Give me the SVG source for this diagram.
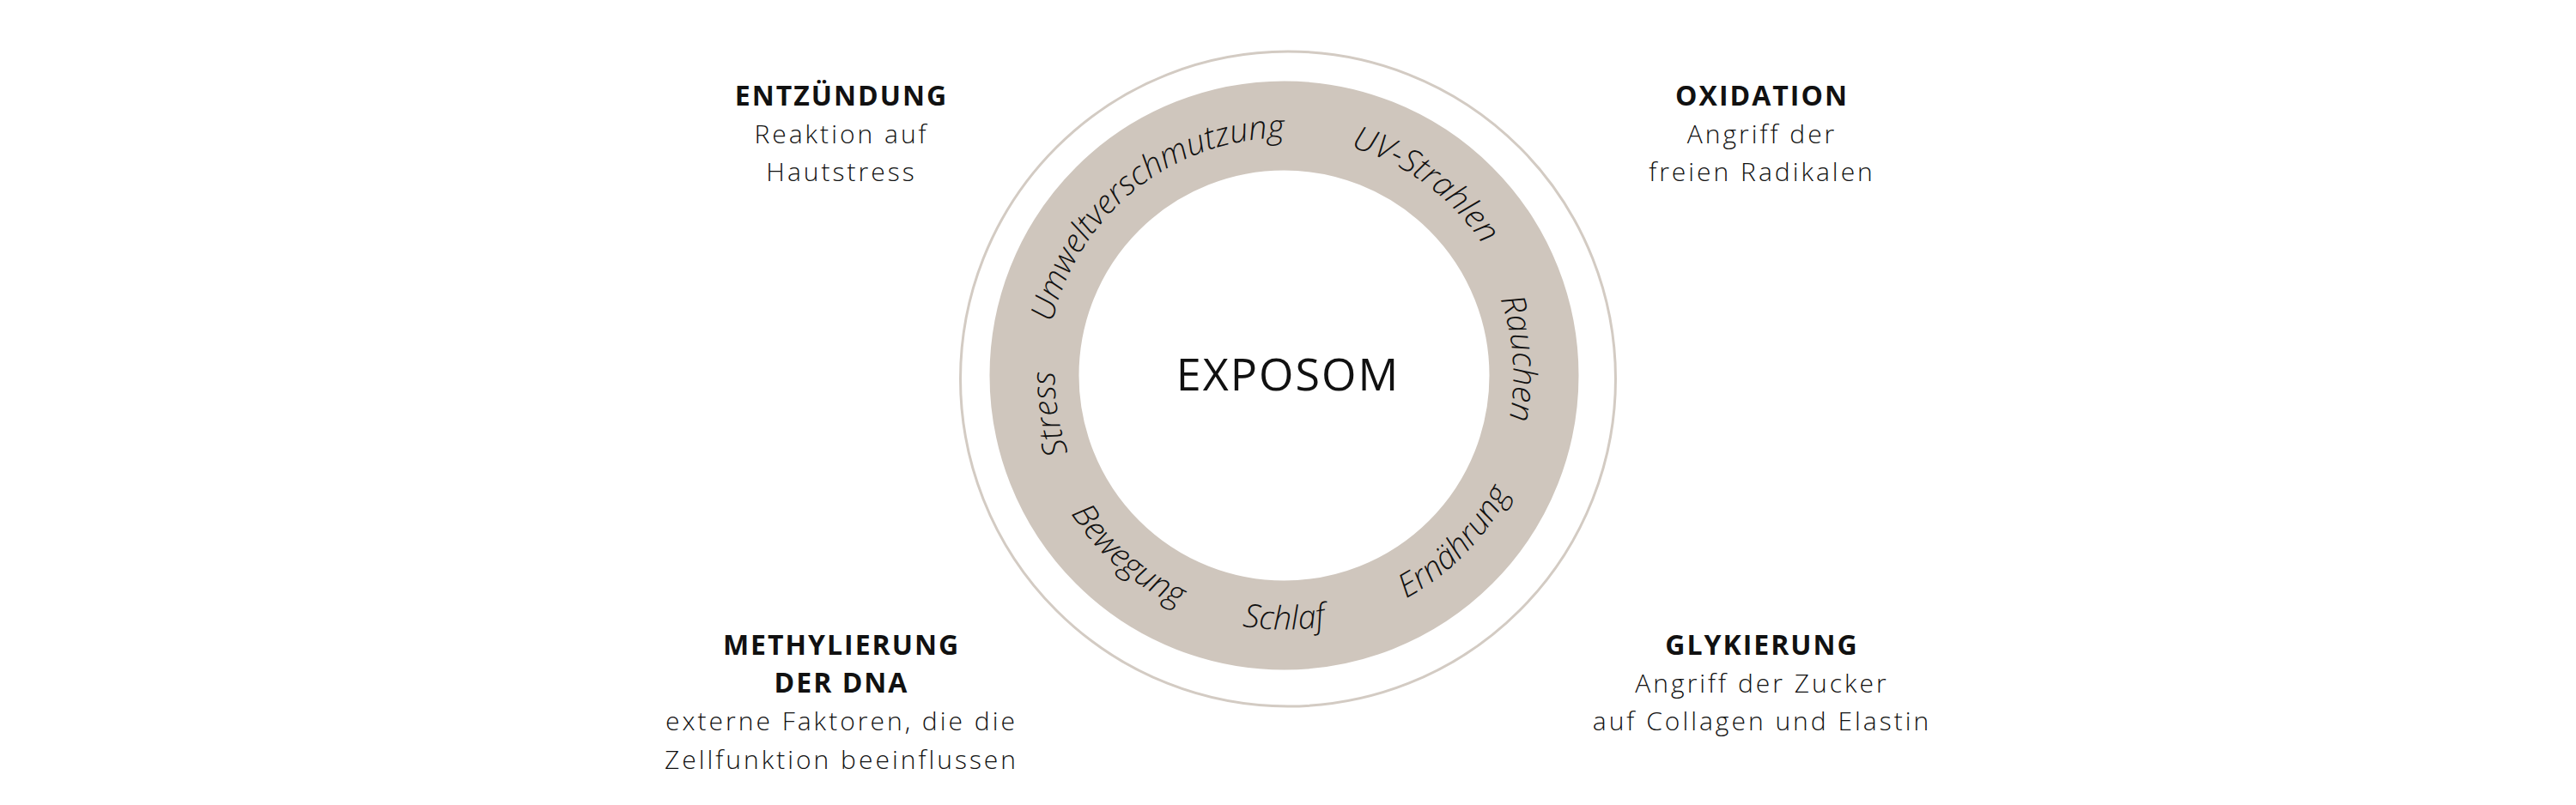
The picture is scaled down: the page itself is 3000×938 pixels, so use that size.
<svg xmlns="http://www.w3.org/2000/svg" xmlns:xlink="http://www.w3.org/1999/xlink" width="3000" height="938" viewBox="0 0 3000 938">
<style>
  .title { font-family: "Open Sans", "Liberation Sans", sans-serif; font-weight: 700; font-size: 32px; fill: #111; text-anchor: middle; letter-spacing: 2px; }
  .body { font-family: "Open Sans", "Liberation Sans", sans-serif; font-weight: 300; font-size: 30px; fill: #111; text-anchor: middle; letter-spacing: 3px; }
  .ring { font-family: "Open Sans", "Liberation Sans", sans-serif; font-style: italic; font-weight: 300; font-size: 38px; fill: #111; text-anchor: middle; }
  .center { font-family: "Open Sans", "Liberation Sans", sans-serif; font-weight: 500; font-size: 52px; fill: #111; text-anchor: middle; letter-spacing: 2px; }
</style>
<defs>
  <path id="pStress" d="M1445.9,699.9 A267,267 0 0 1 1364.8,204.6"/>
  <path id="pUmwelt" d="M1232.8,525.4 A277,277 0 0 1 1640.2,201.3"/>
  <path id="pUV" d="M1342.6,206.5 A277,277 0 0 1 1761.1,516.2"/>
  <path id="pRauchen" d="M1568.4,180.6 A267,267 0 0 1 1604.7,681.1"/>
  <path id="pErn" d="M1373.0,707.0 A296,296 0 0 0 1762.6,309.8"/>
  <path id="pSchlaf" d="M1217.3,538.7 A296,296 0 0 0 1773.7,538.7"/>
  <path id="pBeweg" d="M1218.8,332.4 A296,296 0 0 0 1639.9,695.9"/>
</defs>
<rect width="3000" height="938" fill="#ffffff"/>
<g id="exposom">
  <circle cx="1500" cy="441.5" r="381.5" fill="none" stroke="#d3cbc3" stroke-width="3"/>
  <circle cx="1495.5" cy="437.5" r="291" fill="none" stroke="#cfc6bd" stroke-width="104"/>
  <text class="center" x="1500" y="455">EXPOSOM</text>
</g>
<g id="ring-labels">
  <text class="ring"><textPath xlink:href="#pStress" href="#pStress" startOffset="50%">Stress</textPath></text>
  <text class="ring"><textPath xlink:href="#pUmwelt" href="#pUmwelt" startOffset="50%">Umweltverschmutzung</textPath></text>
  <text class="ring"><textPath xlink:href="#pUV" href="#pUV" startOffset="50%">UV-Strahlen</textPath></text>
  <text class="ring"><textPath xlink:href="#pRauchen" href="#pRauchen" startOffset="50%">Rauchen</textPath></text>
  <text class="ring"><textPath xlink:href="#pErn" href="#pErn" startOffset="50%">Ernährung</textPath></text>
  <text class="ring"><textPath xlink:href="#pSchlaf" href="#pSchlaf" startOffset="50%">Schlaf</textPath></text>
  <text class="ring"><textPath xlink:href="#pBeweg" href="#pBeweg" startOffset="50%">Bewegung</textPath></text>
</g>
<g id="entzuendung">
  <text class="title" x="980" y="123">ENTZÜNDUNG</text>
  <text class="body" x="980" y="166.5">Reaktion auf</text>
  <text class="body" x="980" y="210.5">Hautstress</text>
</g>
<g id="oxidation">
  <text class="title" x="2052" y="123">OXIDATION</text>
  <text class="body" x="2052" y="166.5">Angriff der</text>
  <text class="body" x="2052" y="210.5">freien Radikalen</text>
</g>
<g id="methylierung">
  <text class="title" x="980" y="763">METHYLIERUNG</text>
  <text class="title" x="980" y="807">DER DNA</text>
  <text class="body" x="980" y="851">externe Faktoren, die die</text>
  <text class="body" x="980" y="895.5">Zellfunktion beeinflussen</text>
</g>
<g id="glykierung">
  <text class="title" x="2052" y="763">GLYKIERUNG</text>
  <text class="body" x="2052" y="807">Angriff der Zucker</text>
  <text class="body" x="2052" y="851">auf Collagen und Elastin</text>
</g>
</svg>
